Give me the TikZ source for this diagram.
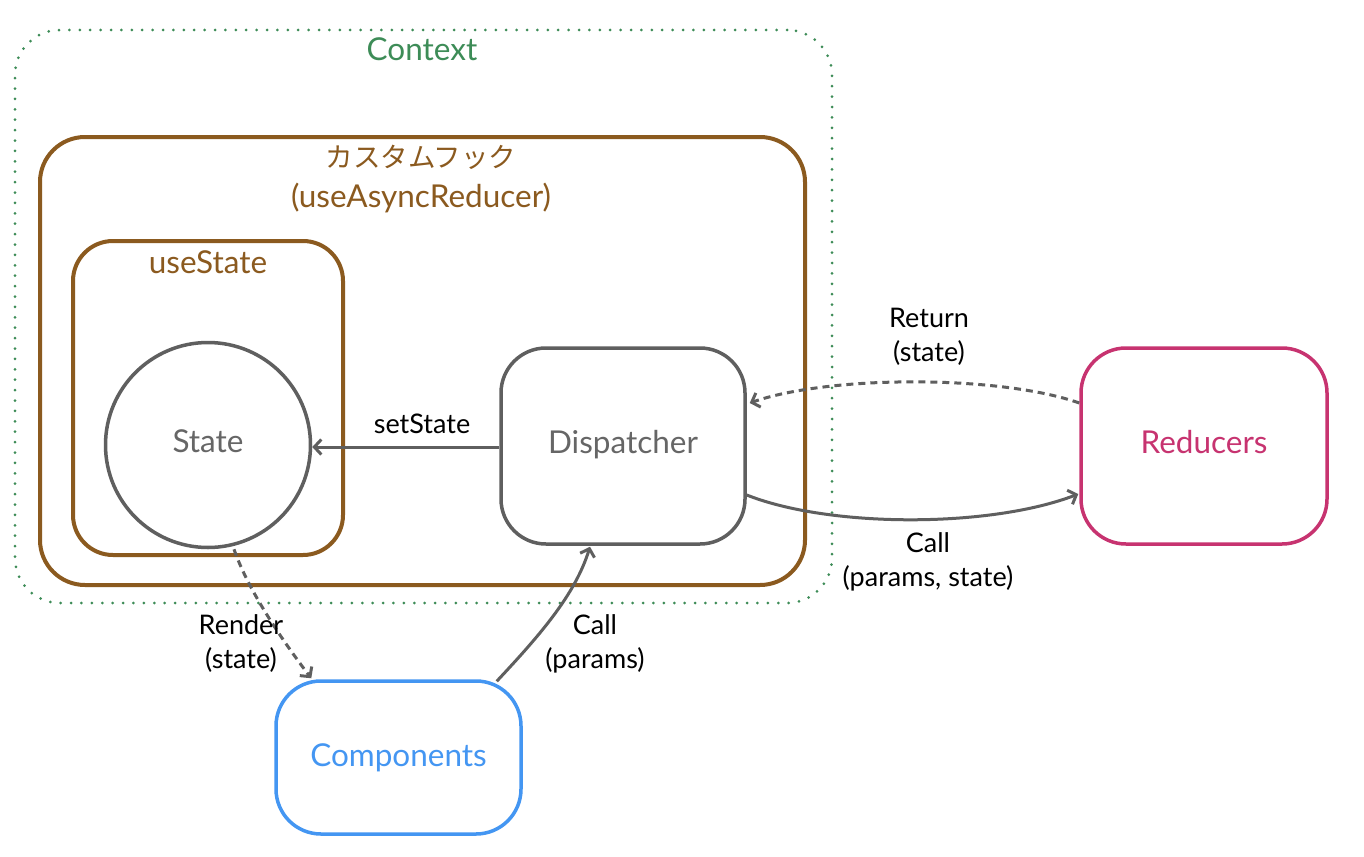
\documentclass[tikz,border=0pt]{standalone}
\usepackage{fontspec}
\setmainfont{Lato}
\newfontfamily\jpfont{Noto Sans CJK JP}
\usetikzlibrary{arrows.meta,calc}
\definecolor{ctxgreen}{HTML}{3D8C57}
\definecolor{hookbrown}{HTML}{8B5A1F}
\definecolor{linegray}{HTML}{5F5F5F}
\definecolor{txtgray}{HTML}{666666}
\definecolor{redmag}{HTML}{C73370}
\definecolor{compblue}{HTML}{4496F2}
\tikzset{
  bigtext/.style={font=\fontsize{31.5}{36}\selectfont},
  lbl/.style={font=\fontsize{27}{34}\selectfont, align=center, text=black, inner sep=0pt},
  rbox/.style={draw, line width=3.5pt, rounded corners=#1, inner sep=0pt},
  conn/.style={draw=linegray, line width=3pt, -{Straight Barb[length=7pt,width=15pt,line width=3pt]}},
  dashconn/.style={conn, dash pattern=on 7pt off 5pt},
}
\begin{document}
\begin{tikzpicture}[x=1pt,y=-1pt]
\useasboundingbox[fill=white] (0,0) rectangle (1364,856);
% Context
\node[rbox=45pt, draw=ctxgreen, line width=3pt, line cap=round, dash pattern=on 0pt off 10.4pt,
      minimum width=817pt, minimum height=573pt] (ctx) at (423.5,316.5) {};
\node[bigtext, text=ctxgreen] (ctxl) at (422,49) {Context};
% Custom hook
\node[rbox=45pt, draw=hookbrown, line width=4pt, minimum width=765pt, minimum height=448pt] (hook) at (422.5,361) {};
\node[text=hookbrown, font=\jpfont\fontsize{27.5}{30}\selectfont] (hookl) at (421,157) {カスタムフック};
\node[bigtext, text=hookbrown] (hookl2) at (421,198) {(useAsyncReducer)};
% useState
\node[rbox=40pt, draw=hookbrown, line width=4pt, minimum width=270pt, minimum height=314pt] (us) at (208,398) {};
\node[bigtext, text=hookbrown] (usl) at (208,262) {useState};
% State circle
\node[circle, draw=linegray, line width=3.5pt, minimum size=205pt, inner sep=0pt, bigtext, text=txtgray] (st) at (208,445) {\raisebox{7pt}{State}};
% Dispatcher
\node[rbox=45pt, draw=linegray, minimum width=244pt, minimum height=196pt, bigtext, text=txtgray] (dp) at (623,446) {\raisebox{8pt}{Dispatcher}};
% Reducers
\node[rbox=45pt, draw=redmag, minimum width=246pt, minimum height=196pt, bigtext, text=redmag] (rd) at (1204,446) {\raisebox{9pt}{Reducers}};
% Components
\node[rbox=45pt, draw=compblue, minimum width=245pt, minimum height=153pt, bigtext, text=compblue] (cp) at (398.5,757.5) {\raisebox{5pt}{Components}};
% connectors
\draw[conn] (dp.west |- 0,447) -- (st.east |- 0,447);
\node[lbl] (setl) at (422,424) {setState};
\draw[conn] ($(dp.east)+(0,49)$) .. controls (830,528) and (990,528) .. ($(rd.west)+(-1,48)$);
\node[lbl] (calll) at (928,562) {Call\\(params, state)};
\draw[dashconn] ($(rd.west)+(0,-43)$) .. controls (1000,375) and (830,375) .. ($(dp.east)+(3,-43)$);
\node[lbl] (retl) at (929,337) {Return\\(state)};
\draw[dashconn] ($(st.south)+(26,0)$) .. controls (248,590) and (282,640) .. ($(cp.north west)+(37,-1)$);
\node[lbl] (renl) at (241,644) {Render\\(state)};
\draw[conn] ($(cp.north east)+(-26,2)$) .. controls (540,635) and (575,595) .. ($(dp.south)+(-33,1)$);
\node[lbl] (cpl) at (595,644) {Call\\(params)};
\end{tikzpicture}
\end{document}
